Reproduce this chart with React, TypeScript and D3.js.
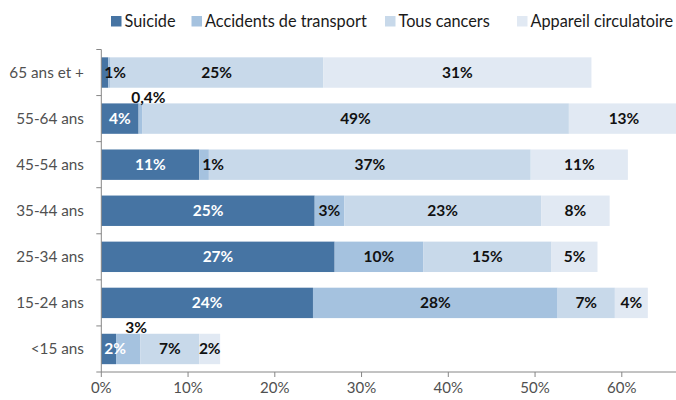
import React, { useEffect, useRef } from 'react';
import * as d3 from 'd3';

// age groups, top to bottom
const ageGroups = ['65 ans et +', '55-64 ans', '45-54 ans', '35-44 ans', '25-34 ans', '15-24 ans', '<15 ans'];
const seriesNames = ['Suicide', 'Accidents de transport', 'Tous cancers', 'Appareil circulatoire'];
// share of deaths (%) per cause
const suicide = [0.8, 4.3, 11.3, 24.6, 26.9, 24.4, 1.7];
const accidents = [0.2, 0.4, 1.1, 3.4, 10.2, 28.2, 2.8];
const cancers = [24.6, 49.2, 37.1, 22.7, 14.8, 6.6, 6.8];
const circulatoire = [30.9, 12.7, 11.2, 7.9, 5.3, 3.8, 2.4];
const xTicks = [0, 10, 20, 30, 40, 50, 60];

const colors = ['#4674a3', '#a5c2df', '#c8d9ea', '#e1e9f3'];
const labelColors = ['#ffffff', '#111111', '#111111', '#111111'];
const font = 'Lato, "Open Sans", sans-serif';

export default function App() {
  const ref = useRef<SVGSVGElement | null>(null);

  useEffect(() => {
    const svg = d3.select(ref.current);
    svg.selectAll('*').remove();

    const fr = d3.formatLocale({ decimal: ',', thousands: ' ', grouping: [3], currency: ['', ' €'] });
    const fmtLabel = (v: number) => (v < 0.5 ? fr.format('.1f')(v) : fr.format('.0f')(v)) + '%';

    const table = ageGroups.map((g, i) => ({
      group: g,
      s0: suicide[i],
      s1: accidents[i],
      s2: cancers[i],
      s3: circulatoire[i],
    }));
    const keys = ['s0', 's1', 's2', 's3'];
    const stacked = d3.stack<any>().keys(keys)(table);

    const x = d3.scaleLinear().domain([0, 60]).range([101.3, 621.8]);
    const y = d3.scaleBand().domain(ageGroups).range([49.5, 372]).paddingInner(0.34).paddingOuter(0.17);

    // bars
    stacked.forEach((layer, k) => {
      svg.append('g')
        .selectAll('rect')
        .data(layer)
        .enter()
        .append('rect')
        .attr('x', d => x(d[0]))
        .attr('y', d => y(d.data.group)!)
        .attr('width', d => Math.max(0, x(d[1]) - x(d[0])))
        .attr('height', y.bandwidth())
        .attr('fill', colors[k]);
    });

    // labels placed above the bar for tiny segments
    const above = new Set(['1|55-64 ans', '1|<15 ans']);
    stacked.forEach((layer, k) => {
      layer.forEach(d => {
        const v = d[1] - d[0];
        if (v < 0.3) return;
        const g = d.data.group;
        const x0 = x(d[0]);
        const x1 = x(d[1]);
        const top = y(g)!;
        const t = svg.append('text')
          .attr('font-family', font)
          .attr('font-size', 15.5)
          .attr('font-weight', 'bold')
          .text(fmtLabel(v));
        if (above.has(k + '|' + g)) {
          t.attr('x', (x0 + x1) / 2 + 8).attr('y', top - 0.5).attr('text-anchor', 'middle').attr('fill', '#111');
        } else if (x1 - x0 < 20) {
          t.attr('x', x0 + 3).attr('y', top + y.bandwidth() / 2 + 5.5).attr('text-anchor', 'start')
            .attr('fill', x1 - x0 < 10 ? '#111' : labelColors[k]);
        } else {
          t.attr('x', (x0 + x1) / 2).attr('y', top + y.bandwidth() / 2 + 5.5).attr('text-anchor', 'middle').attr('fill', labelColors[k]);
        }
      });
    });

    // y axis
    const yAxisG = svg.append('g');
    yAxisG.append('line')
      .attr('x1', x(0)).attr('x2', x(0))
      .attr('y1', 49.5).attr('y2', 372)
      .attr('stroke', '#868686');
    const step = y.step();
    d3.range(ageGroups.length + 1).forEach(i => {
      const yy = 49.5 + i * step;
      yAxisG.append('line')
        .attr('x1', x(0) - 5).attr('x2', x(0))
        .attr('y1', yy).attr('y2', yy)
        .attr('stroke', '#868686');
    });
    yAxisG.selectAll('text.cat')
      .data(ageGroups)
      .enter()
      .append('text')
      .attr('class', 'cat')
      .attr('x', 84)
      .attr('y', d => y(d)! + y.bandwidth() / 2 + 5.5)
      .attr('text-anchor', 'end')
      .attr('font-family', font)
      .attr('font-size', 15.3)
      .attr('fill', '#505050')
      .text(d => d);

    // x axis
    const xAxisG = svg.append('g');
    xAxisG.append('line')
      .attr('x1', x(0)).attr('x2', 676)
      .attr('y1', 372).attr('y2', 372)
      .attr('stroke', '#868686');
    xAxisG.selectAll('line.tick')
      .data(xTicks)
      .enter()
      .append('line')
      .attr('class', 'tick')
      .attr('x1', d => x(d)).attr('x2', d => x(d))
      .attr('y1', 372).attr('y2', 377)
      .attr('stroke', '#868686');
    xAxisG.selectAll('text')
      .data(xTicks)
      .enter()
      .append('text')
      .attr('x', d => x(d))
      .attr('y', 393)
      .attr('text-anchor', 'middle')
      .attr('font-family', font)
      .attr('font-size', 15)
      .attr('fill', '#505050')
      .text(d => d + '%');

    // legend
    const legendX = [111, 191.5, 385, 517];
    const legend = svg.append('g');
    seriesNames.forEach((name, i) => {
      legend.append('rect')
        .attr('x', legendX[i]).attr('y', 16)
        .attr('width', 10.5).attr('height', 10.5)
        .attr('fill', colors[i]);
      legend.append('text')
        .attr('x', legendX[i] + 13.5)
        .attr('y', 27)
        .attr('font-family', font)
        .attr('font-size', 16.3)
        .attr('fill', '#1a1a1a')
        .text(name);
    });
  }, []);

  return (
    <svg
      ref={ref}
      width={676}
      height={400}
      style={{ position: 'absolute', left: 0, top: 0, background: '#fff' }}
    />
  );
}
